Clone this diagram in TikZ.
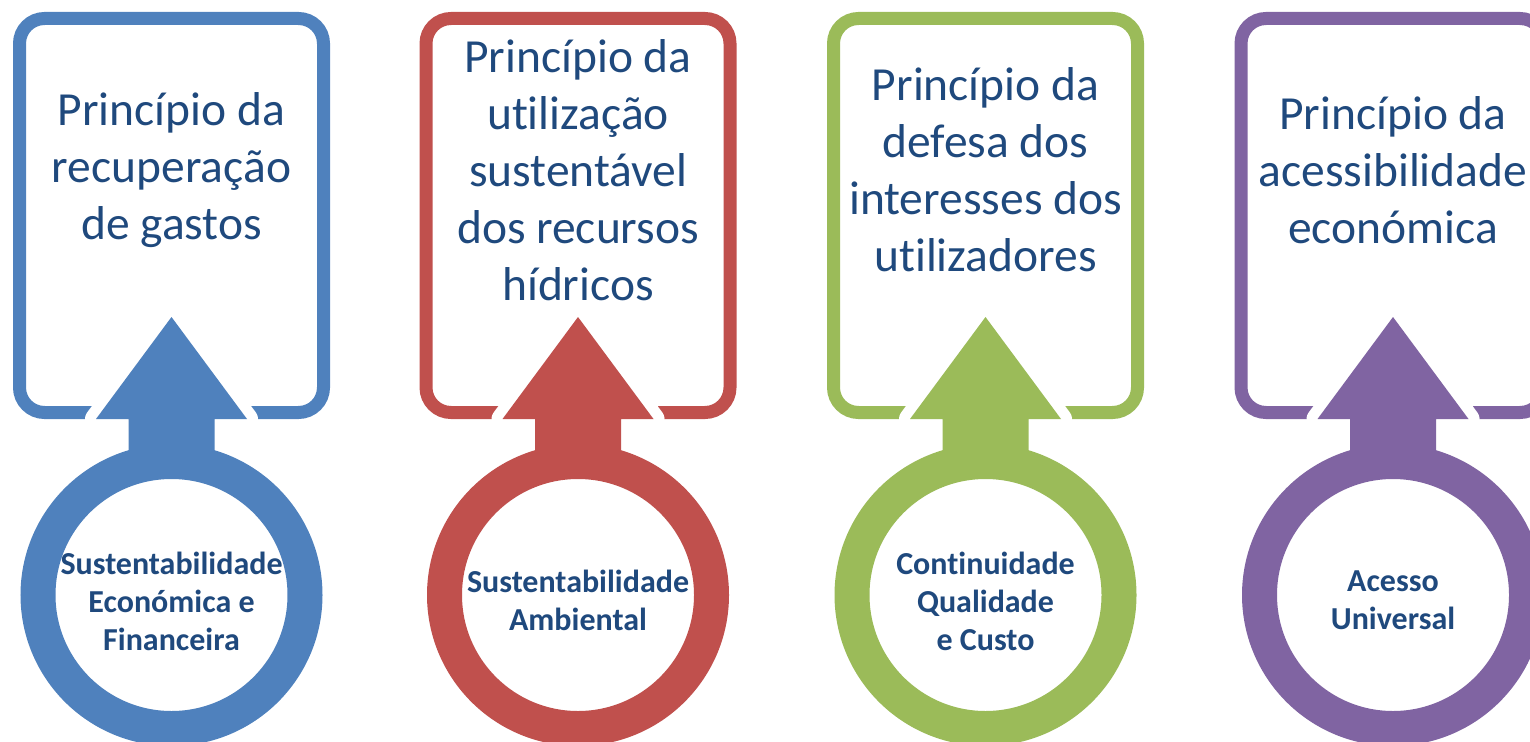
\documentclass[tikz,border=0pt]{standalone}
\usepackage{fontspec}
\setmainfont{Carlito}[Ligatures=CommonOff]
\definecolor{cblue}{HTML}{4F81BD}
\definecolor{cred}{HTML}{C0504D}
\definecolor{cgreen}{HTML}{9BBB59}
\definecolor{cpurple}{HTML}{8064A2}
\definecolor{ctext}{HTML}{1F497D}
\tikzset{
  framebox/.style={draw=#1, line width=13pt, rounded corners=25pt, minimum width=304pt, minimum height=394pt, inner sep=0pt},
  ringnode/.style={circle, draw=#1, line width=35pt, minimum size=267pt, fill=white, inner sep=0pt},
  titletext/.style={align=center, text=ctext, font=\fontsize{47.5}{57}\selectfont},
  labeltext/.style={align=center, text=ctext, font=\fontsize{32}{38}\selectfont\bfseries},
  headgap/.style={draw=white, line width=22pt, line join=round},
}
\newcommand\princcol[6]{%
  \node[framebox=#2] (box#6) at (#1,215.5) {};
  \draw[headgap] (#1,317) -- ({#1+75.5},419) -- ({#1-75.5},419) -- cycle;
  \node[ringnode=#2] (ring#6) at (#1,595) {};
  \fill[#2] (#1,317) -- ({#1+75.5},419) -- ({#1+43},419) -- ({#1+43},470) -- ({#1-43},470) -- ({#1-43},419) -- ({#1-75.5},419) -- cycle;
  \node[titletext] (title#6) at (#1,170) {#3};
  \node[labeltext] (label#6) at (#1,#5) {#4};
}
\begin{document}
\begin{tikzpicture}[x=1pt,y=-1pt]
\useasboundingbox (0,0) rectangle (1530,741);
\princcol{171.5}{cblue}{Princípio da\\recuperação\\de gastos}{Sustentabilidade\\Económica e\\Financeira}{601}{a}
\princcol{578}{cred}{Princípio da\\utilização\\sustentável\\dos recursos\\hídricos}{Sustentabilidade\\Ambiental}{600}{b}
\princcol{985.5}{cgreen}{Princípio da\\defesa dos\\interesses dos\\utilizadores}{Continuidade\\Qualidade\\e Custo}{601}{c}
\princcol{1393}{cpurple}{Princípio da\\acessibilidade\\económica}{Acesso\\Universal}{600}{d}
\end{tikzpicture}
\end{document}
